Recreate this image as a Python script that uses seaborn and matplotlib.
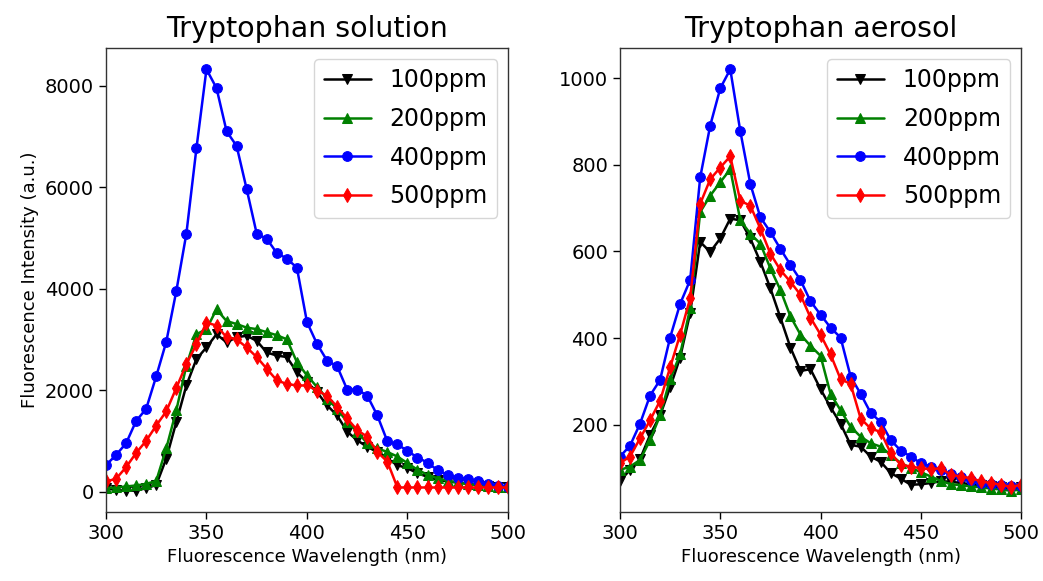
import seaborn as sns
import pandas as pd
import numpy as np
import matplotlib.pyplot as plt

# wavelength grid (nm)
wl = [300, 305, 310, 315, 320, 325, 330, 335, 340, 345,
      350, 355, 360, 365, 370, 375, 380, 385, 390, 395,
      400, 405, 410, 415, 420, 425, 430, 435, 440, 445,
      450, 455, 460, 465, 470, 475, 480, 485, 490, 495, 500]

labels = ['100ppm', '200ppm', '400ppm', '500ppm']
colors = ['black', 'green', 'blue', 'red']
markers = ['v', '^', 'o', 'd']

# Tryptophan solution
sol_100 = [65, 30, 15, 20, 65, 130, 650, 1370, 2090, 2610,
           2840, 3100, 2940, 3040, 3070, 2970, 2740, 2680, 2650, 2350,
           2160, 1960, 1700, 1500, 1180, 1010, 880, 780, 650, 520,
           460, 360, 290, 230, 200, 175, 150, 130, 110, 95, 85]
sol_200 = [65, 80, 100, 120, 150, 210, 850, 1600, 2480, 3100,
           3200, 3590, 3360, 3300, 3230, 3200, 3140, 3080, 3000, 2550,
           2290, 2060, 1830, 1630, 1370, 1180, 950, 850, 780, 690,
           560, 430, 330, 260, 215, 180, 150, 130, 110, 95, 80]
sol_400 = [520, 720, 950, 1390, 1630, 2270, 2950, 3950, 5080, 6760,
           8320, 7950, 7100, 6810, 5960, 5080, 4980, 4700, 4590, 4410,
           3340, 2910, 2580, 2470, 2010, 2010, 1890, 1500, 990, 930,
           800, 670, 570, 420, 330, 270, 250, 200, 140, 110, 80]
sol_500 = [200, 250, 480, 760, 1000, 1300, 1580, 2040, 2510, 2900,
           3330, 3270, 3040, 3000, 2840, 2650, 2420, 2190, 2120, 2090,
           2090, 1990, 1890, 1670, 1440, 1210, 1080, 780, 590, 80,
           80, 80, 80, 80, 80, 80, 80, 80, 80, 80, 80]

# Tryptophan aerosol
aer_100 = [70, 95, 120, 176, 221, 286, 355, 458, 622, 599,
           630, 676, 672, 630, 576, 515, 447, 378, 324, 328,
           282, 240, 202, 153, 149, 126, 114, 88, 75, 61,
           62, 65, 69, 68, 65, 62, 60, 58, 55, 52, 55]
aer_200 = [95, 103, 118, 164, 221, 305, 362, 469, 691, 729,
           760, 790, 672, 641, 618, 561, 511, 450, 408, 382,
           359, 271, 233, 195, 172, 157, 149, 130, 111, 100,
           90, 80, 70, 62, 60, 57, 55, 52, 50, 47, 50]
aer_400 = [126, 151, 202, 267, 303, 401, 479, 534, 771, 891,
           977, 1021, 878, 756, 679, 645, 606, 569, 534, 485,
           454, 424, 401, 311, 271, 227, 206, 164, 140, 126,
           111, 103, 95, 85, 80, 73, 65, 63, 61, 59, 59]
aer_500 = [111, 126, 168, 210, 255, 332, 408, 492, 710, 767,
           794, 820, 717, 706, 653, 595, 557, 530, 500, 447,
           408, 362, 305, 294, 214, 191, 183, 134, 107, 103,
           99, 97, 99, 84, 80, 76, 69, 65, 61, 56, 61]

sns.set_style('ticks')
plt.rcParams['font.family'] = ['DejaVu Sans']
plt.rcParams.update({'text.color': 'black', 'axes.labelcolor': 'black',
                     'xtick.color': 'black', 'ytick.color': 'black'})

fig = plt.figure(figsize=(10.43, 5.81), dpi=100)
ax1 = fig.add_axes([0.1016, 0.119, 0.3854, 0.798])
ax2 = fig.add_axes([0.5944, 0.119, 0.3846, 0.798])

panels = [(ax1, 'Tryptophan solution', [sol_100, sol_200, sol_400, sol_500]),
          (ax2, 'Tryptophan aerosol', [aer_100, aer_200, aer_400, aer_500])]

for ax, title, series in panels:
    for vals, lab, c, m in zip(series, labels, colors, markers):
        df = pd.DataFrame({'wl': wl, 'val': vals})
        sns.lineplot(data=df, x='wl', y='val', color=c, marker=m, label=lab,
                     markersize=7, linewidth=1.8, ax=ax)
    for ln in ax.get_lines():
        ln.set_markeredgecolor(ln.get_color())
    ax.set_xlim(300, 500)
    ax.set_xticks([300, 350, 400, 450, 500])
    ax.set_title(title, fontsize=20.5, pad=8)
    ax.set_xlabel('Fluorescence Wavelength (nm)', fontsize=13)
    ax.set_ylabel('')
    ax.tick_params(labelsize=14, length=5, width=1)
    for s in ax.spines.values():
        s.set_linewidth(1)
        s.set_color('#333333')
    ax.legend(loc='upper right', fontsize=17, handlelength=2,
              labelspacing=0.62, borderaxespad=0.45)

ax1.set_ylabel('Fluorescence Intensity (a.u.)', fontsize=13)
ax1.set_yticks([0, 2000, 4000, 6000, 8000])
ax2.set_yticks([200, 400, 600, 800, 1000])

plt.savefig('out.png', dpi=100)
